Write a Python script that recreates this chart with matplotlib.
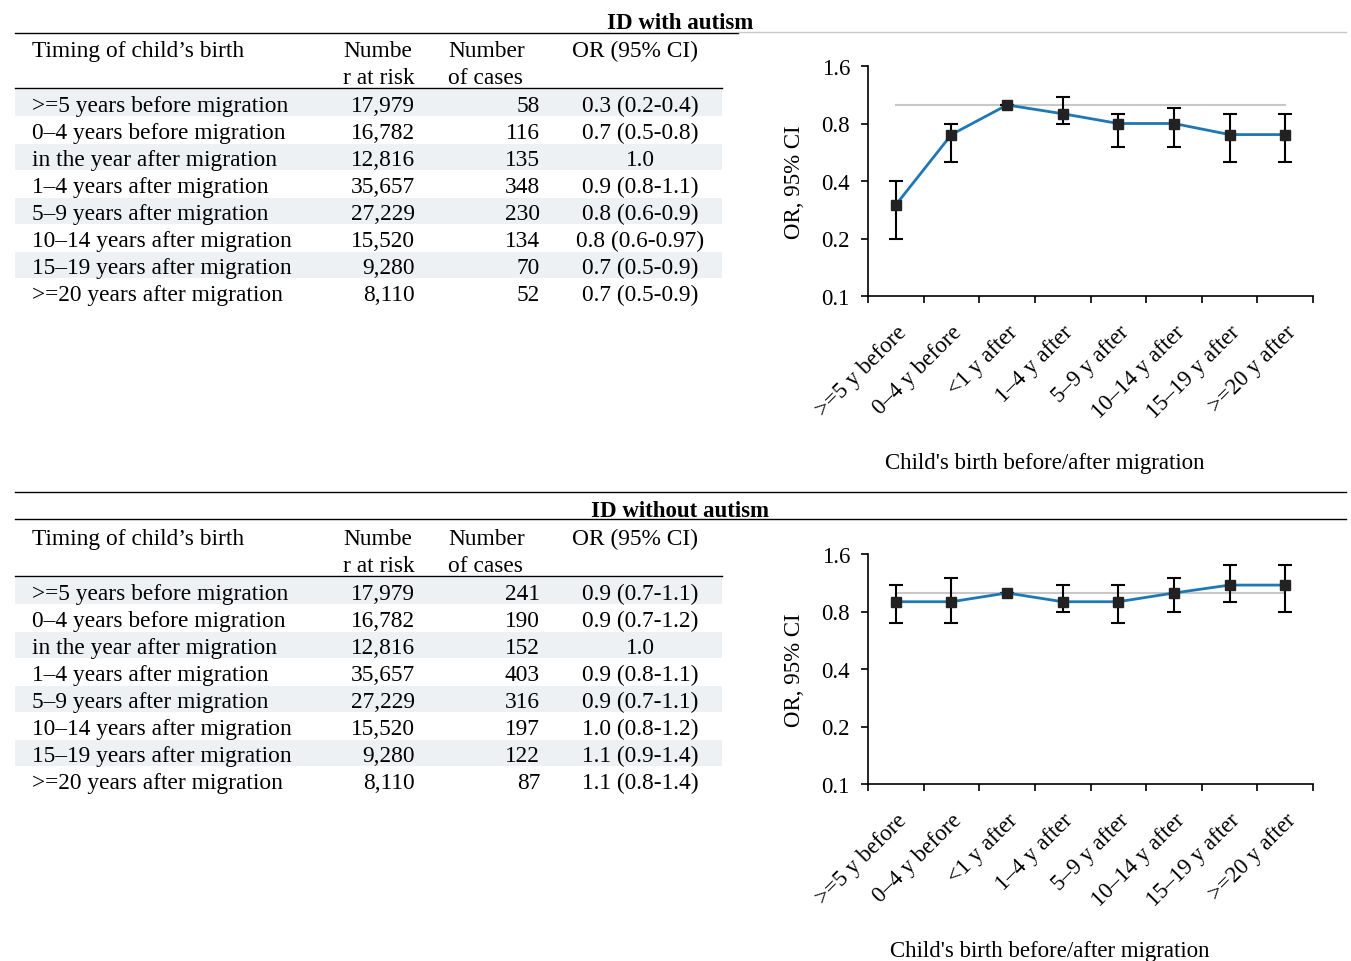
import numpy as np
import matplotlib.pyplot as plt
from matplotlib.lines import Line2D
from matplotlib.patches import Rectangle

plt.rcParams['font.family'] = ['Liberation Serif', 'DejaVu Serif']

timing = ['>=5 years before migration', '0\u20134 years before migration', 'in the year after migration',
          '1\u20134 years after migration', '5\u20139 years after migration', '10\u201314 years after migration',
          '15\u201319 years after migration', '>=20 years after migration']
at_risk = ['17,979', '16,782', '12,816', '35,657', '27,229', '15,520', '9,280', '8,110']
short = ['>=5 y before', '0\u20134 y before', '<1 y after', '1\u20134 y after', '5\u20139 y after',
         '10\u201314 y after', '15\u201319 y after', '>=20 y after']

cases_a = [58, 116, 135, 348, 230, 134, 70, 52]
or_txt_a = ['0.3 (0.2-0.4)', '0.7 (0.5-0.8)', '1.0', '0.9 (0.8-1.1)', '0.8 (0.6-0.9)',
            '0.8 (0.6-0.97)', '0.7 (0.5-0.9)', '0.7 (0.5-0.9)']
or_a = [0.3, 0.7, 1.0, 0.9, 0.8, 0.8, 0.7, 0.7]
lo_a = [0.2, 0.5, 1.0, 0.8, 0.6, 0.6, 0.5, 0.5]
hi_a = [0.4, 0.8, 1.0, 1.1, 0.9, 0.97, 0.9, 0.9]

cases_b = [241, 190, 152, 403, 316, 197, 122, 87]
or_txt_b = ['0.9 (0.7-1.1)', '0.9 (0.7-1.2)', '1.0', '0.9 (0.8-1.1)', '0.9 (0.7-1.1)',
            '1.0 (0.8-1.2)', '1.1 (0.9-1.4)', '1.1 (0.8-1.4)']
or_b = [0.9, 0.9, 1.0, 0.9, 0.9, 1.0, 1.1, 1.1]
lo_b = [0.7, 0.7, 1.0, 0.8, 0.7, 0.8, 0.9, 0.8]
hi_b = [1.1, 1.2, 1.0, 1.1, 1.1, 1.2, 1.4, 1.4]

W, H = 1351, 962
fig = plt.figure(figsize=(W / 100, H / 100), dpi=100)

def fx(x):
    return x / W

def fy(y):
    return 1 - y / H

def section(off, title, cases, or_txt, orv, lo, hi, gray_right):
    fs = 16.8
    kw = dict(va='center_baseline', fontsize=fs)
    fig.text(fx(680), fy(off + 21), title, ha='center', va='center_baseline', fontsize=16.5, fontweight='bold')
    if gray_right:
        fig.add_artist(Line2D([fx(15), fx(738)], [fy(off + 34)] * 2, color='black', lw=1))
        fig.add_artist(Line2D([fx(738), fx(1346)], [fy(off + 33)] * 2, color='#c8c8c8', lw=1))
    else:
        fig.add_artist(Line2D([fx(15), fx(1346)], [fy(off + 5)] * 2, color='black', lw=1))
        fig.add_artist(Line2D([fx(15), fx(1346)], [fy(off + 32)] * 2, color='black', lw=1))
    fig.text(fx(32), fy(off + 49), 'Timing of child\u2019s birth', **kw)
    fig.text(fx(343), fy(off + 49), 'Numbe', **kw)
    fig.text(fx(343), fy(off + 76), 'r at risk', **kw)
    fig.text(fx(448), fy(off + 49), 'Number', **kw)
    fig.text(fx(448), fy(off + 76), 'of cases', **kw)
    fig.text(fx(572), fy(off + 49), 'OR (95% CI)', **kw)
    fig.add_artist(Line2D([fx(15), fx(722)], [fy(off + 89)] * 2, color='black', lw=1))
    for i in range(8):
        y = off + 104 + 27 * i
        if i % 2 == 0:
            fig.add_artist(Rectangle((fx(15), fy(y + 13)), fx(707), 26 / H, color='#eef1f4', lw=0))
        fig.text(fx(32), fy(y), timing[i], **kw)
        fig.text(fx(415), fy(y), at_risk[i], ha='right', **kw)
        fig.text(fx(540), fy(y), str(cases[i]), ha='right', **kw)
        fig.text(fx(640), fy(y), or_txt[i], ha='center', **kw)

    ax = fig.add_axes([fx(868), fy(off + 297), fx(1313 - 868), (297 - 67) / H])
    x = np.arange(8)
    ax.plot([0, 7], [1.0, 1.0], color='#c8c8c8', lw=1.5, zorder=1)
    err = [np.array(orv) - np.array(lo), np.array(hi) - np.array(orv)]
    ax.errorbar(x, orv, yerr=err, color='#1f77b4', lw=2, ecolor='black', elinewidth=1.5,
                capsize=5, capthick=1.5, marker='s', ms=7, mfc='#222222', mec='#222222', zorder=3)
    ax.set_yscale('log')
    ax.set_ylim(0.1, 1.6)
    ax.set_yticks([0.1, 0.2, 0.4, 0.8, 1.6])
    ax.set_yticklabels(['0.1', '0.2', '0.4', '0.8', '1.6'], fontsize=16.5)
    ax.yaxis.set_minor_locator(plt.NullLocator())
    ax.set_xlim(-0.5, 7.5)
    ax.set_xticks(np.arange(-0.5, 8, 1))
    ax.set_xticklabels([])
    ax.set_xticks(x, minor=True)
    ax.set_xticklabels(short, minor=True, rotation=45, ha='right', rotation_mode='anchor', fontsize=16.5)
    ax.tick_params(axis='x', which='minor', length=0, pad=18)
    ax.tick_params(axis='both', which='major', length=5, width=1.2)
    ax.tick_params(axis='y', pad=8)
    for s in ['top', 'right']:
        ax.spines[s].set_visible(False)
    ax.spines['left'].set_linewidth(1.2)
    ax.spines['bottom'].set_linewidth(1.2)
    ax.set_ylabel('OR, 95% CI', fontsize=16.5, labelpad=12)
    fig.text(fx(1045 if gray_right else 1050), fy(off + 461), "Child's birth before/after migration",
             ha='center', va='center_baseline', fontsize=16.5)

section(0, 'ID with autism', cases_a, or_txt_a, or_a, lo_a, hi_a, True)
section(488, 'ID without autism', cases_b, or_txt_b, or_b, lo_b, hi_b, False)

fig.savefig('out.png', dpi=100)
